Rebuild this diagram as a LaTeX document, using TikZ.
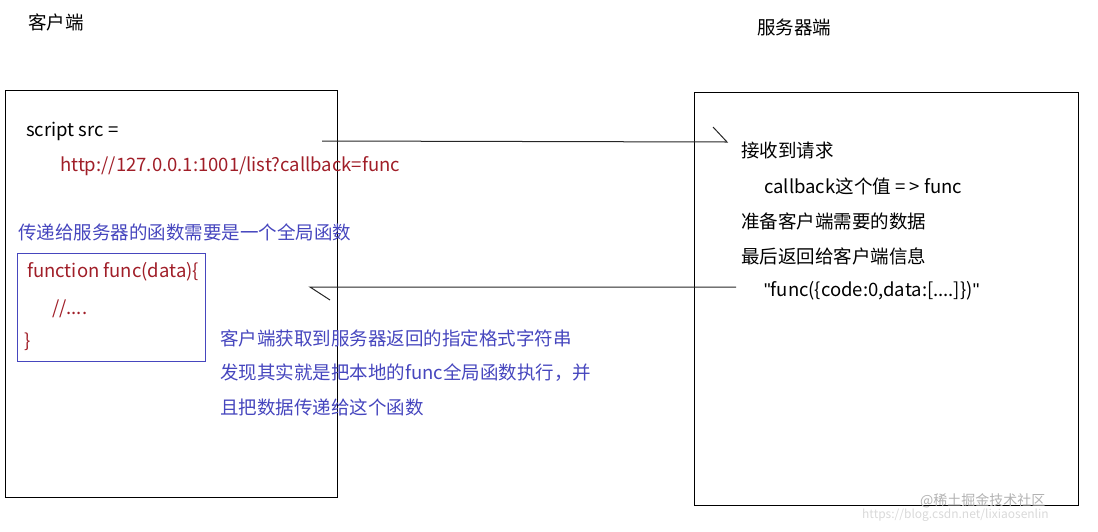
\documentclass[tikz,border=0pt]{standalone}
\usepackage{fontspec}
\setmainfont{Noto Sans CJK SC}
\newfontfamily\qfont{Liberation Sans}
\begin{document}
\begin{tikzpicture}[x=1pt,y=-1pt,
  txt/.style={anchor=west,inner sep=0pt,font=\fontsize{18.5}{22}\selectfont},
  red/.style={txt,text={rgb,255:red,160;green,30;blue,40}},
  blu/.style={txt,text={rgb,255:red,70;green,70;blue,190}},
  box/.style={draw=black,line width=1pt},
  conn/.style={draw=black!85,line width=1pt}]
\useasboundingbox (0,0) rectangle (1098,531);
\node[box,minimum width=332pt,minimum height=407pt,anchor=north west,inner sep=0pt] (cl) at (5,90) {};
\node[box,minimum width=384pt,minimum height=413pt,anchor=north west,inner sep=0pt] (sv) at (694,92) {};
\node[draw={rgb,255:red,70;green,70;blue,190},line width=0.8pt,minimum width=188pt,minimum height=108pt,anchor=north west,inner sep=0pt] (fb) at (17,253) {};
\node[txt] (t1) at (28,22) {客户端};
\node[txt] (t2) at (757,27) {服务器端};
\node[txt] (s1) at (26,131) {script src =};
\node[red] (s2) at (60,166) {http://127.0.0.1:1001/list?callback=func};
\node[blu] (s3) at (18,232) {传递给服务器的函数需要是一个全局函数};
\node[red] (f1) at (27,272) {function func(data)\{};
\node[red] (f2) at (52,309) {//....};
\node[red] (f3) at (24,342) {\}};
\node[blu] (b1) at (220,338) {客户端获取到服务器返回的指定格式字符串};
\node[blu] (b2) at (220,373) {发现其实就是把本地的func全局函数执行，并};
\node[blu] (b3) at (220,407) {且把数据传递给这个函数};
\node[txt] (r1) at (741,150) {接收到请求};
\node[txt] (r2) at (764,186) {callback这个值 = > func};
\node[txt] (r3) at (741,221) {准备客户端需要的数据};
\node[txt] (r4) at (741,256) {最后返回给客户端信息};
\node[txt] (r5) at (764,291) {{\qfont\symbol{34}}func(\{code:0,data:[....]\}){\qfont\symbol{34}}};
\node[txt,text=black!30,font=\fontsize{14}{16}\selectfont] (wm) at (920,501) {@稀土掘金技术社区};
\node[txt,text=black!15,font=\fontsize{12}{14}\selectfont] (wm2) at (862,515) {https://blog.csdn.net/lixiaosenlin};
\coordinate (a1) at (322,141); \coordinate (a2) at (727,142); \coordinate (a3) at (713,127);
\coordinate (c1) at (736,287); \coordinate (c2) at (310,287); \coordinate (c3) at (330,300);
\draw[conn] (a1) -- (a2) -- (a3);
\draw[conn] (c1) -- (c2) -- (c3);
\end{tikzpicture}
\end{document}
